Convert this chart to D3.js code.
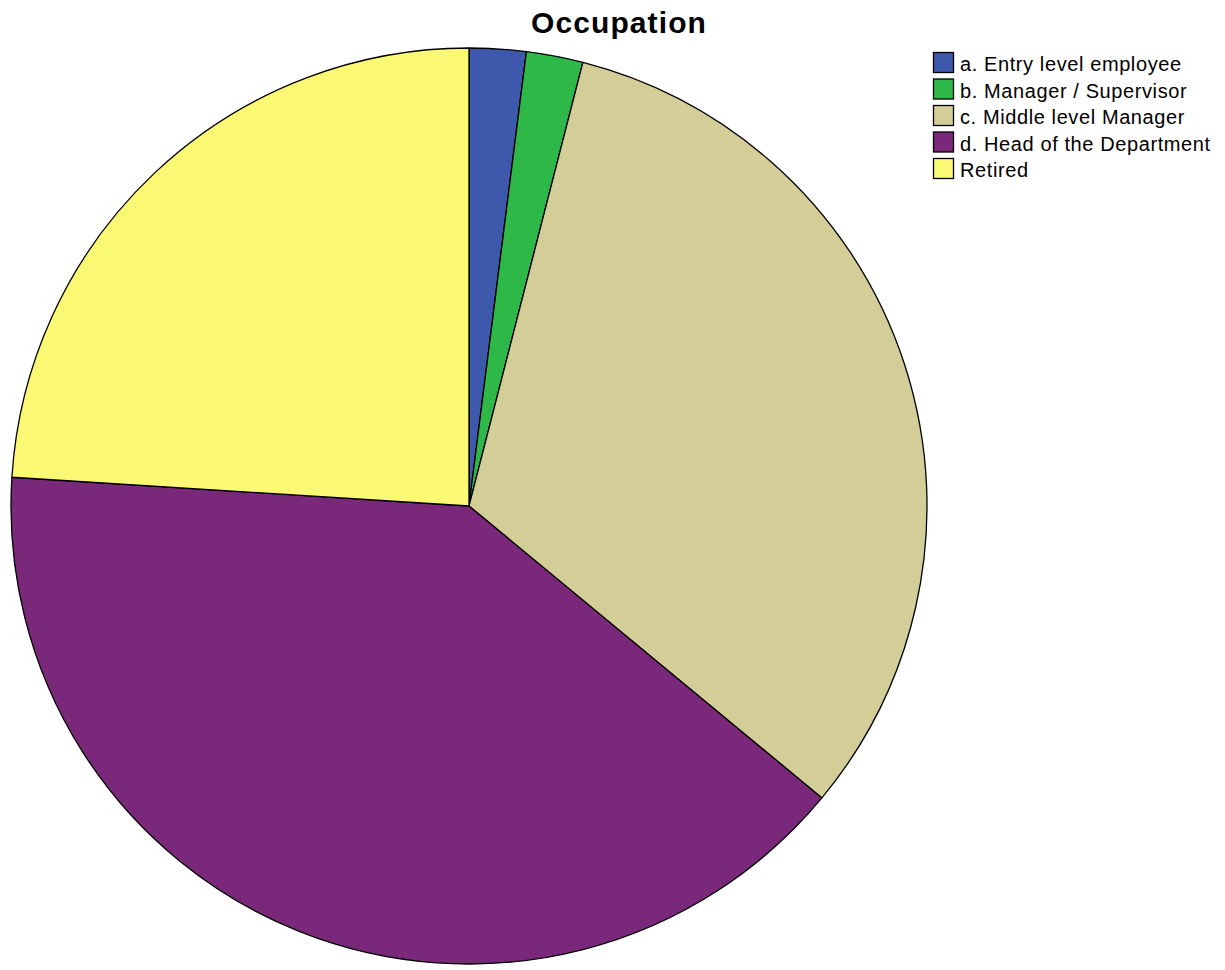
<!DOCTYPE html>
<html>
<head>
<meta charset="utf-8">
<script src="https://cdn.jsdelivr.net/npm/d3@7"></script>
<style>
  html, body { margin: 0; padding: 0; background: #fff; }
  svg { display: block; }
</style>
</head>
<body>
<svg id="chart" width="1225" height="970"></svg>
<script>
const title = "Occupation";
const categories = ["a. Entry level employee", "b. Manager / Supervisor", "c. Middle level Manager", "d. Head of the Department", "Retired"];
const values = [1, 1, 16, 20, 12];
const colors = ["#3E58AC", "#2EB848", "#D3CE97", "#7A287A", "#FBF873"];

const svg = d3.select("#chart");
const cx = 469, cy = 506, r = 458;

const data = categories.map((c, i) => ({ name: c, value: values[i], color: colors[i] }));
const pie = d3.pie().value(d => d.value).sort(null);
const arc = d3.arc().innerRadius(0).outerRadius(r);

svg.append("g")
  .attr("transform", `translate(${cx},${cy})`)
  .selectAll("path")
  .data(pie(data))
  .join("path")
  .attr("d", arc)
  .attr("fill", d => d.data.color)
  .attr("stroke", "#000")
  .attr("stroke-width", 1.3)
  .attr("stroke-linejoin", "round");

svg.append("text")
  .attr("x", 619)
  .attr("y", 33)
  .attr("text-anchor", "middle")
  .attr("font-family", "Liberation Sans, Arial, sans-serif")
  .attr("font-weight", "bold")
  .attr("font-size", 30)
  .attr("letter-spacing", 1.1)
  .attr("fill", "#000")
  .text(title);

const legend = svg.append("g").attr("transform", "translate(933,52)");
const rows = legend.selectAll("g").data(data).join("g")
  .attr("transform", (d, i) => `translate(0,${i * 26.5})`);
rows.append("rect")
  .attr("x", 0.5).attr("y", 0.5)
  .attr("width", 20).attr("height", 20)
  .attr("fill", d => d.color)
  .attr("stroke", "#000")
  .attr("stroke-width", 1.3);
rows.append("text")
  .attr("x", 27)
  .attr("y", 19)
  .attr("font-family", "Liberation Sans, Arial, sans-serif")
  .attr("font-size", 20)
  .attr("letter-spacing", 0.6)
  .attr("fill", "#000")
  .text(d => d.name);
</script>
</body>
</html>
